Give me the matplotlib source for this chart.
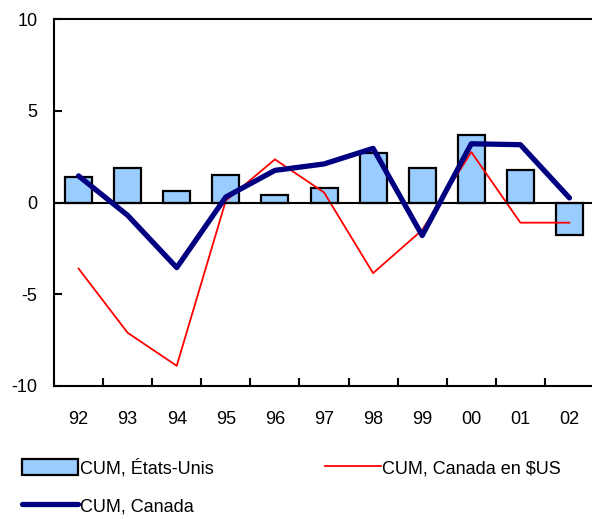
import matplotlib.pyplot as plt
from matplotlib.patches import Patch
from matplotlib.lines import Line2D
import numpy as np

plt.rcParams['font.family'] = ['Liberation Sans', 'DejaVu Sans']

# données
annees = ['92', '93', '94', '95', '96', '97', '98', '99', '00', '01', '02']
cum_usa = [1.4, 1.9, 0.65, 1.5, 0.4, 0.8, 2.7, 1.9, 3.7, 1.75, -1.75]
cum_canada = [1.45, -0.7, -3.55, 0.3, 1.75, 2.1, 2.95, -1.8, 3.2, 3.15, 0.25]
cum_canada_usd = [-3.6, -7.1, -8.9, 0.1, 2.35, 0.55, -3.85, -1.5, 2.75, -1.1, -1.1]

x = np.arange(len(annees))

fig = plt.figure(figsize=(5.92, 5.19), dpi=100)
ax = fig.add_axes([54 / 592, 133 / 519, 540 / 592, 367 / 519])

ax.bar(x, cum_usa, width=0.55, color='#99CCFF', edgecolor='black', linewidth=1.6, zorder=2)
ax.plot(x, cum_canada_usd, color='red', lw=1.3, zorder=3)
ax.plot(x, cum_canada, color='#000080', lw=3.8, solid_capstyle='round', zorder=4)
ax.axhline(0, color='black', lw=1.5, zorder=3)

ax.set_xlim(-0.5, 10.5)
ax.set_ylim(-10, 10)
ax.set_yticks([-10, -5, 0, 5, 10])
ax.set_yticklabels(['-10', '-5', '0', '5', '10'])
ax.set_xticks(x)
ax.set_xticklabels(annees)
ax.set_xticks(np.arange(-0.5, 10.6, 1), minor=True)
ax.tick_params(axis='x', which='major', length=0, pad=18, labelsize=13)
ax.tick_params(axis='x', which='minor', direction='in', length=6, width=1.5)
ax.tick_params(axis='y', direction='in', length=6, width=1.5, labelsize=13, pad=12)

for s in ['left', 'bottom', 'top']:
    ax.spines[s].set_linewidth(1.5)
ax.spines['right'].set_visible(False)

handles = [
    Patch(facecolor='#99CCFF', edgecolor='black', linewidth=1.6),
    Line2D([0], [0], color='#000080', lw=3.8, solid_capstyle='round'),
    Line2D([0], [0], color='red', lw=1.3),
]
labels = ['CUM, États-Unis', 'CUM, Canada', 'CUM, Canada en $US']
fig.legend(handles, labels, ncol=2, loc='upper left', bbox_to_anchor=(22 / 592, 60 / 519),
           frameon=False, fontsize=13, handlelength=3.1, handleheight=1.0,
           handletextpad=0.1, columnspacing=6.15, labelspacing=1.1,
           borderaxespad=0, borderpad=0)

fig.savefig('out.png', dpi=100)
